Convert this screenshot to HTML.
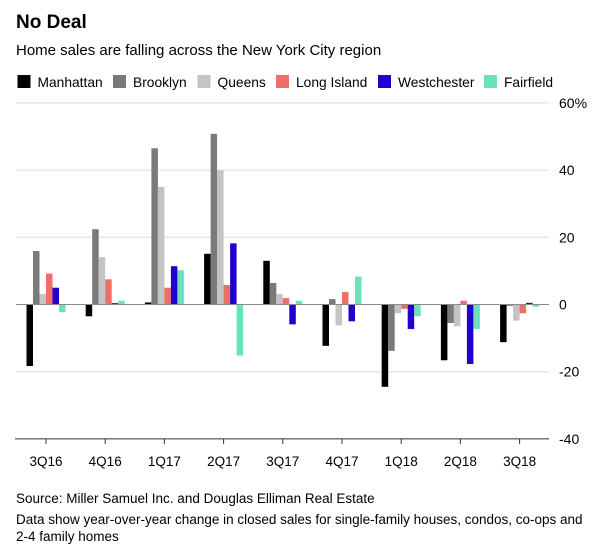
<!DOCTYPE html>
<html><head><meta charset="utf-8"><style>
body{margin:0;background:#fff;font-family:"Liberation Sans",sans-serif;color:#000}
#wrap{position:relative;width:600px;height:544px;overflow:hidden}
.t{position:absolute;white-space:nowrap}
</style></head><body>
<div id="wrap">
<div class="t" style="left:16px;top:12px;font-size:19px;font-weight:bold">No Deal</div>
<div class="t" style="left:16px;top:42px;font-size:15px">Home sales are falling across the New York City region</div>
<svg id="svg" width="600" height="544" style="position:absolute;left:0;top:0"></svg>
<div class="t" style="left:16px;top:491px;font-size:13.5px">Source: Miller Samuel Inc. and Douglas Elliman Real Estate</div>
<div class="t" style="left:16px;top:511px;font-size:13.5px;line-height:17px;white-space:normal;width:580px">Data show year-over-year change in closed sales for single-family houses, condos, co-ops and 2-4 family homes</div>
</div>
<script>
const categories=["3Q16","4Q16","1Q17","2Q17","3Q17","4Q17","1Q18","2Q18","3Q18"];
const seriesNames=["Manhattan","Brooklyn","Queens","Long Island","Westchester","Fairfield"];
const colors=["#000000","#7a7a7a","#c4c4c4","#ee6e6a","#2200d0","#6ae3bb"];
const manhattan=[-18.3,-3.5,0.6,15.1,13,-12.3,-24.5,-16.6,-11.2];
const brooklyn=[15.9,22.4,46.5,50.8,6.4,1.6,-13.8,-5.5,-0.4];
const queens=[3.1,14.1,35,40,3.1,-6.2,-2.6,-6.5,-4.8];
const longIsland=[9.2,7.5,5,5.8,1.9,3.7,-1.3,1.1,-2.6];
const westchester=[5,0.4,11.4,18.2,-5.9,-5,-7.3,-17.7,0.5];
const fairfield=[-2.3,1.1,10.2,-15.2,1.1,8.3,-3.5,-7.3,-0.7];
const yTicks=[60,40,20,0,-20,-40];
const yTickLabels=["60%","40","20","0","-20","-40"];
const series=[manhattan,brooklyn,queens,longIsland,westchester,fairfield];
const NS="http://www.w3.org/2000/svg";
const svg=document.getElementById('svg');
const y=v=>304.5-(v*3.36);
const x=i=>46+i*59.2;
const bw=6.5;
function mk(t,a){const e=document.createElementNS(NS,t);for(const k in a)e.setAttribute(k,a[k]);svg.appendChild(e);return e;}
yTicks.forEach((v,i)=>{
  if(v!==0&&v!==-40){const g=mk('line',{x1:16,x2:549,y1:y(v),y2:y(v),stroke:'#dcdcdc','stroke-width':1});
  
  }
  const t=mk('text',{x:559,y:y(v)+5,'font-size':14,fill:'#000'});
  t.textContent=yTickLabels[i];
  
  
});
series.forEach((s,si)=>{
  s.forEach((v,ci)=>{
    const bx=x(ci)-19.5+si*bw;
    const r=mk('rect',{x:bx,y:Math.min(y(v),y(0)),width:bw,height:Math.abs(y(v)-y(0)),fill:colors[si]});
    
    
  });
});
const z=mk('line',{x1:16,x2:549,y1:y(0),y2:y(0),stroke:'#8a8a8a','stroke-width':1});


const ax=mk('line',{x1:15,x2:549,y1:y(-40),y2:y(-40),stroke:'#333','stroke-width':1});


categories.forEach((c,i)=>{
  const tk=mk('line',{x1:x(i),x2:x(i),y1:y(-40),y2:y(-40)+5,stroke:'#333','stroke-width':1});
  
  
  const t=mk('text',{x:x(i),y:466,'font-size':13.5,'text-anchor':'middle',fill:'#000'});
  t.textContent=c;
  
  
});
const lx=[17.5,113,197.5,276,378,484];
seriesNames.forEach((n,i)=>{
  const r=mk('rect',{x:lx[i],y:75,width:13,height:13,fill:colors[i]});
  
  
  const t=mk('text',{x:lx[i]+20,y:87,'font-size':13.8,fill:'#000'});
  t.textContent=n;
  
  
});
</script>
</body></html>
